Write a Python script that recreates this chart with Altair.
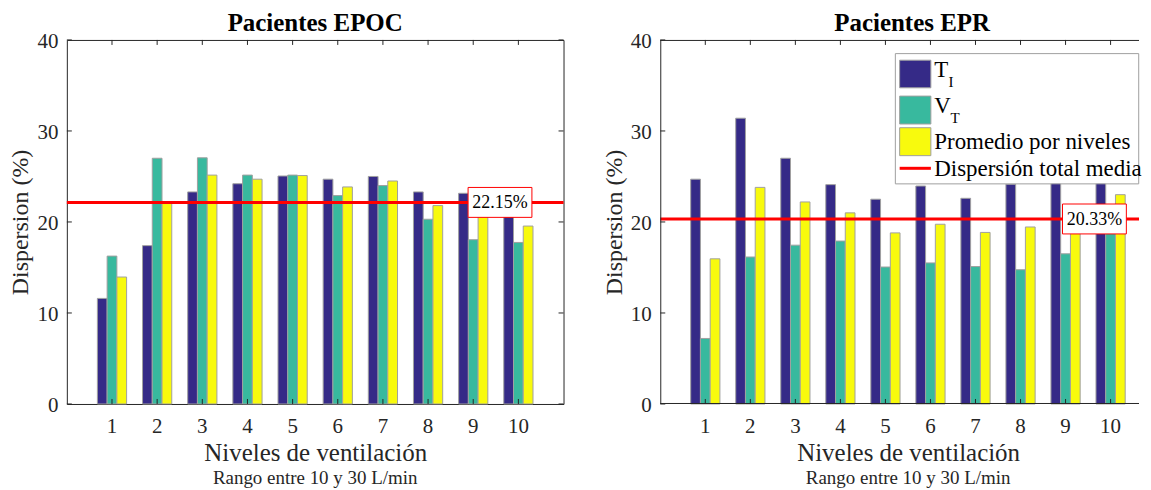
import altair as alt
import pandas as pd

# ---------------- data ----------------
niveles = [1, 2, 3, 4, 5, 6, 7, 8, 9, 10]
series = ["TI", "VT", "Promedio"]

epoc_ti = [11.6, 17.4, 23.3, 24.2, 25.05, 24.7, 25.0, 23.3, 23.15, 21.35]
epoc_vt = [16.25, 27.0, 27.05, 25.15, 25.15, 22.9, 24.0, 20.3, 18.05, 17.75]
epoc_prom = [13.95, 22.2, 25.15, 24.7, 25.1, 23.85, 24.5, 21.8, 20.6, 19.55]
epoc_media = 22.15

epr_ti = [24.7, 31.4, 27.0, 24.1, 22.5, 23.95, 22.6, 24.15, 24.5, 24.6]
epr_vt = [7.2, 16.15, 17.45, 17.9, 15.05, 15.5, 15.1, 14.75, 16.5, 21.4]
epr_prom = [15.95, 23.8, 22.2, 21.0, 18.8, 19.75, 18.85, 19.45, 20.5, 23.0]
epr_media = 20.33

y_ticks = [0, 10, 20, 30, 40]

# ---------------- style ----------------
FONT = "Liberation Serif"
AX = "#262626"
COLORS = ["#352a87", "#38b99e", "#f8fa0d"]
EDGE = "#a0a0a0"
H = 365


def panel(titulo, ti, vt, prom, media, W, step, box_x, center, title_dx=0, legend=False, cut_right=False):
    n = len(niveles)
    pin = 1 - 29.3 / step
    pout = (W / step - n + pin) / 2
    leftover = W - step * (n - pin)
    align = (step - step * (1 - pin) / 2) / leftover

    xscale = alt.Scale(paddingInner=pin, paddingOuter=pout, align=align)
    yscale = alt.Scale(domain=[0, 40])
    xaxis = alt.Axis(
        title="Niveles de ventilación", labelAngle=0, ticks=False, domain=False,
        labelFont=FONT, labelFontSize=21, labelColor=AX, labelPadding=12,
        titleFont=FONT, titleFontSize=25, titleFontWeight="normal", titleColor=AX,
        titleBaseline="alphabetic", titleX=center, titleY=57, titleAlign="center",
    )
    yaxis = alt.Axis(
        values=y_ticks, title="Dispersion (%)", grid=False, ticks=False, domain=False,
        labelFont=FONT, labelFontSize=21, labelColor=AX, labelPadding=9, labelOffset=2,
        titleFont=FONT, titleFontSize=24, titleFontWeight="normal", titleColor=AX,
        titleBaseline="top", titleX=-58, titleY=H / 2, titleAlign="center",
    )
    X = alt.X("nivel:O", scale=xscale, axis=xaxis)
    Y = alt.Y("valor:Q", scale=yscale, axis=yaxis)

    df = pd.DataFrame({
        "nivel": niveles * 3,
        "serie": [series[0]] * n + [series[1]] * n + [series[2]] * n,
        "valor": ti + vt + prom,
    })
    bars = alt.Chart(df).mark_bar(stroke=EDGE, strokeWidth=1).encode(
        x=X,
        xOffset=alt.XOffset("serie:N", scale=alt.Scale(domain=series, paddingInner=0, paddingOuter=0)),
        y=Y,
        color=alt.Color("serie:N", scale=alt.Scale(domain=series, range=COLORS), legend=None),
    )

    df_niv = pd.DataFrame({"nivel": niveles})
    df_yt = pd.DataFrame({"valor": y_ticks})
    layers = [bars]
    layers.append(alt.Chart(df_niv).mark_rule(color=AX, strokeWidth=1).encode(x=X, y=alt.value(0), y2=alt.value(5)))
    layers.append(alt.Chart(df_niv).mark_rule(color=AX, strokeWidth=1).encode(x=X, y=alt.value(H), y2=alt.value(H - 5)))
    layers.append(alt.Chart(df_yt).mark_rule(color=AX, strokeWidth=1).encode(y=Y, x=alt.value(0), x2=alt.value(5)))
    if not cut_right:
        layers.append(alt.Chart(df_yt).mark_rule(color=AX, strokeWidth=1).encode(y=Y, x=alt.value(W), x2=alt.value(W - 5)))

    df_m = pd.DataFrame({"valor": [media], "etiqueta": [f"{media:.2f}%"]})
    layers.append(alt.Chart(df_m).mark_rule(color="#ff0000", strokeWidth=3).encode(y=Y))
    layers.append(alt.Chart(df_m).mark_rect(fill="white", stroke="#ff0000", strokeWidth=1, yOffset=-15, y2Offset=15).encode(
        y=Y, y2=alt.Y2("valor"), x=alt.value(box_x), x2=alt.value(box_x + 64)))
    layers.append(alt.Chart(df_m).mark_text(font=FONT, fontSize=18, color="black", baseline="middle", align="center", dy=1).encode(
        y=Y, x=alt.value(box_x + 32), text="etiqueta:N"))

    dummy = alt.Chart(pd.DataFrame({"a": [0]}))
    layers.append(dummy.mark_text(font=FONT, fontSize=19, color=AX, baseline="alphabetic", align="center").encode(
        x=alt.value(center), y=alt.value(H + 80.4), text=alt.value("Rango entre 10 y 30 L/min")))
    layers.append(dummy.mark_text(font=FONT, fontSize=25, fontWeight="bold", color="black", baseline="top", align="center").encode(
        x=alt.value(center + title_dx), y=alt.value(-28.6), text=alt.value(titulo)))

    if cut_right:
        layers.append(dummy.mark_rule(color=AX, strokeWidth=1).encode(y=alt.value(0.5), x=alt.value(0), x2=alt.value(W)))
        layers.append(dummy.mark_rule(color=AX, strokeWidth=1).encode(y=alt.value(H - 0.5), x=alt.value(0), x2=alt.value(W)))
        layers.append(dummy.mark_rule(color=AX, strokeWidth=1).encode(x=alt.value(0.5), y=alt.value(0), y2=alt.value(H)))

    if legend:
        dx = -5
        lx0, lx1 = 245 + dx, 276.3 + dx
        layers.append(dummy.mark_rect(fill="white", stroke=EDGE, strokeWidth=1).encode(
            x=alt.value(240.7 + dx), x2=alt.value(484.7 + dx), y=alt.value(13.7), y2=alt.value(144.3)))
        for col, (y0, y1) in zip(COLORS, [(20.3, 48), (56.3, 84.3), (88, 116)]):
            layers.append(dummy.mark_rect(fill=col, stroke=EDGE, strokeWidth=1).encode(
                x=alt.value(lx0), x2=alt.value(lx1), y=alt.value(y0), y2=alt.value(y1)))
        layers.append(dummy.mark_rule(color="#ff0000", strokeWidth=3).encode(
            x=alt.value(lx0), x2=alt.value(lx1), y=alt.value(128.7)))
        for txt, x, y, fs in [("T", 279.7, 37, 23), ("I", 294, 47, 15),
                              ("V", 279.7, 73.7, 23), ("T", 296, 83.7, 15),
                              ("Promedio por niveles", 279.7, 109.3, 23),
                              ("Dispersión total media", 279.7, 136, 23)]:
            layers.append(dummy.mark_text(font=FONT, fontSize=fs, color="black", align="left", baseline="alphabetic").encode(
                x=alt.value(x + dx), y=alt.value(y), text=alt.value(txt)))

    view = alt.ViewBackground(stroke="transparent") if cut_right else alt.ViewBackground(stroke=AX, strokeWidth=1)
    return alt.layer(*layers).properties(width=W, height=H, view=view)


left = panel("Pacientes EPOC", epoc_ti, epoc_vt, epoc_prom, epoc_media, 498, 498 / 11, 402.3, 249)
right = panel("Pacientes EPR", epr_ti, epr_vt, epr_prom, epr_media, 480, 45.15, 403.3, 248.5,
              title_dx=4, legend=True, cut_right=True)

chart = alt.hconcat(left, right, spacing=97, bounds="flush").properties(
    padding={"left": 0, "top": 1.4, "right": 0, "bottom": 0}
).configure(font=FONT)

chart.save("out.html", embed_options={"renderer": "svg", "actions": False})
